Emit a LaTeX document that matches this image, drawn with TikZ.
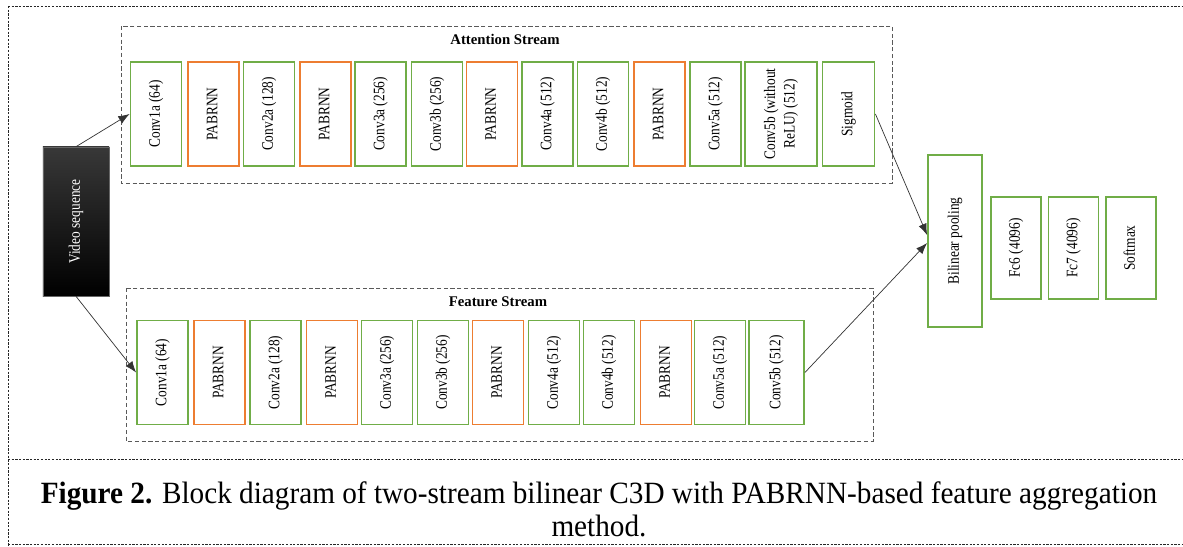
\documentclass[tikz,border=0pt]{standalone}
\usepackage{fontspec}
\setmainfont{Liberation Serif}
\usepackage{graphicx}
\usetikzlibrary{arrows.meta}
\definecolor{cgreen}{HTML}{70AD47}
\definecolor{corange}{HTML}{ED7D31}
\newcommand\vlabel[1]{\rotatebox{90}{\scalebox{1}[1.2]{\begin{tabular}{@{}c@{}}#1\end{tabular}}}}
\begin{document}
\begin{tikzpicture}[x=0.025cm, y=-0.025cm,
  blk/.style={draw, line width=1.3pt, inner sep=0pt, fill=white,
    font=\fontsize{9.5}{11.5}\selectfont, minimum width=1.275cm, minimum height=2.6cm},
  gbox/.style={blk, draw=cgreen},
  obox/.style={blk, draw=corange},
  streambox/.style={draw=black!65, line width=0.6pt, dash pattern=on 3pt off 1.8pt},
  frameline/.style={draw=black!85, line width=0.5pt, dash pattern=on 1.6pt off 1pt},
  title/.style={font=\bfseries\fontsize{10.5}{12}\selectfont, inner sep=0pt},
  conn/.style={draw=black!80, line width=0.5pt, -{Latex[length=8pt,width=6pt]}}]
\useasboundingbox (0,0) rectangle (1183,546);
% outer frame
\draw[frameline] (8,6) -- (1183,6);
\draw[frameline] (8,6) -- (8,546);
\draw[frameline] (8,459) -- (1183,459);
\draw[frameline] (8,544.5) -- (1183,544.5);
% stream boxes
\draw[streambox] (121,26) rectangle (892,183);
\node[title] (attT) at (505,39) {Attention Stream};
\draw[streambox] (126,288) rectangle (873,441);
\node[title] (featT) at (498,302) {Feature Stream};
% video
\node[draw=black!60, line width=0.4pt, top color=black!78, middle color=black, bottom color=black,
  minimum width=1.65cm, minimum height=3.725cm, inner sep=0pt, text=white,
  font=\fontsize{9.5}{11.5}\selectfont] (vid) at (76,221.5) {\vlabel{Video sequence}};
% attention stream
\node[gbox] (a1) at (156,114) {\vlabel{Conv1a (64)}};
\node[obox] (a2) at (213.5,114) {\vlabel{PABRNN}};
\node[gbox] (a3) at (269,114) {\vlabel{Conv2a (128)}};
\node[obox] (a4) at (325.5,114) {\vlabel{PABRNN}};
\node[gbox] (a5) at (380.5,114) {\vlabel{Conv3a (256)}};
\node[gbox] (a6) at (437,114) {\vlabel{Conv3b (256)}};
\node[obox] (a7) at (492,114) {\vlabel{PABRNN}};
\node[gbox] (a8) at (547.5,114) {\vlabel{Conv4a (512)}};
\node[gbox] (a9) at (603,114) {\vlabel{Conv4b (512)}};
\node[obox] (a10) at (659.5,114) {\vlabel{PABRNN}};
\node[gbox] (a11) at (715.5,114) {\vlabel{Conv5a (512)}};
\node[gbox, minimum width=1.8cm] (a12) at (781,114) {\vlabel{Conv5b (without\\ReLU) (512)}};
\node[gbox, minimum width=1.3cm] (a13) at (848.5,114) {\vlabel{Sigmoid}};
% feature stream
\node[gbox] (f1) at (162.5,372.5) {\vlabel{Conv1a (64)}};
\node[obox] (f2) at (219.5,372.5) {\vlabel{PABRNN}};
\node[gbox] (f3) at (275.5,372.5) {\vlabel{Conv2a (128)}};
\node[obox] (f4) at (332,372.5) {\vlabel{PABRNN}};
\node[gbox] (f5) at (387,372.5) {\vlabel{Conv3a (256)}};
\node[gbox] (f6) at (443,372.5) {\vlabel{Conv3b (256)}};
\node[obox] (f7) at (498,372.5) {\vlabel{PABRNN}};
\node[gbox] (f8) at (554,372.5) {\vlabel{Conv4a (512)}};
\node[gbox] (f9) at (609,372.5) {\vlabel{Conv4b (512)}};
\node[obox] (f10) at (666,372.5) {\vlabel{PABRNN}};
\node[gbox] (f11) at (720,372.5) {\vlabel{Conv5a (512)}};
\node[gbox, minimum width=1.375cm] (f12) at (776.5,372.5) {\vlabel{Conv5b (512)}};
% right part
\node[gbox, minimum width=1.35cm, minimum height=4.3cm] (bil) at (955,241) {\vlabel{Bilinear pooling}};
\node[gbox, minimum width=1.25cm, minimum height=2.55cm] (fc6) at (1016,248) {\vlabel{Fc6 (4096)}};
\node[gbox, minimum width=1.25cm, minimum height=2.55cm] (fc7) at (1073.5,248) {\vlabel{Fc7 (4096)}};
\node[gbox, minimum width=1.25cm, minimum height=2.55cm] (soft) at (1131,248) {\vlabel{Softmax}};
% connectors
\draw[conn] (vid.north) -- (a1.west);
\draw[conn] (vid.south) -- (f1.west);
\draw[conn] (a13.east) -- ([yshift=0.15cm]bil.west);
\draw[conn] (f12.east) -- ([yshift=-0.05cm]bil.west);
% caption
\node[anchor=base, inner sep=0pt] (cap) at (599,503.5) {\resizebox{27.9cm}{\height}{\fontsize{22}{23.8}\selectfont\begin{tabular}[t]{@{}c@{}}\textbf{Figure 2.} Block diagram of two-stream bilinear C3D with PABRNN-based feature aggregation\\method.\end{tabular}}};
\end{tikzpicture}
\end{document}
